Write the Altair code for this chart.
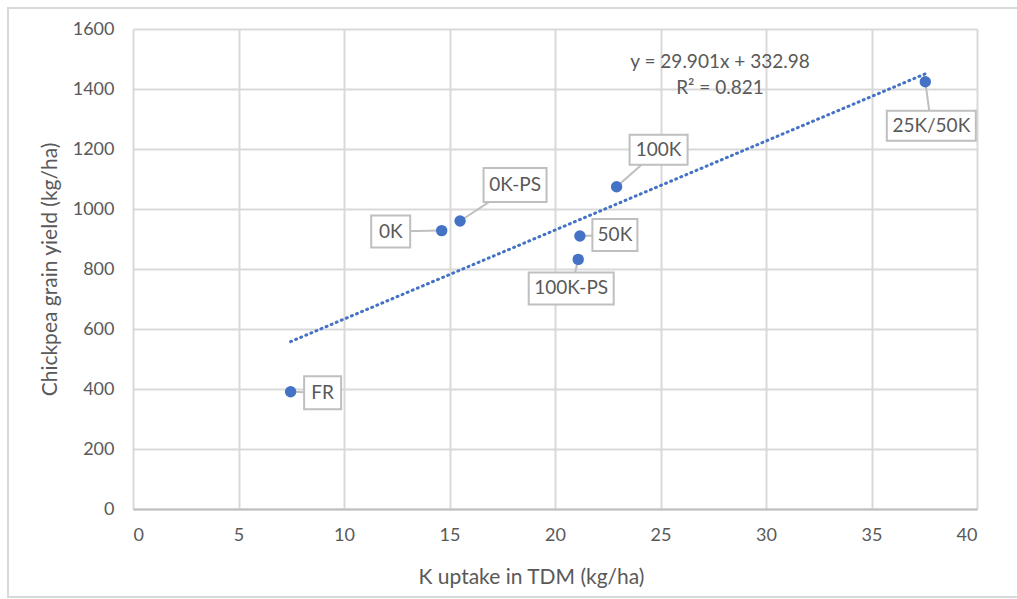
import altair as alt
import pandas as pd

# ---- data ----
labels = ["FR", "0K", "0K-PS", "100K-PS", "50K", "100K", "25K/50K"]
k_uptake = [7.47, 14.63, 15.50, 21.10, 21.18, 22.92, 37.55]
grain_yield = [391, 928, 960, 832, 910, 1074, 1424]

equation_text = "y = 29.901x + 332.98"
r2_text = "R² = 0.821"

# ---- styling / layout (pixels) ----
W, H = 844, 480
X_MAX, Y_MAX = 40, 1600
PX_X = W / X_MAX
PX_Y = H / Y_MAX
# label box centre offset from its point, and box size (pixels)
label_dx = [32, -51, 55, -7, 35, 42, 6]
label_dy = [1, 1, -36, 29, -1, -37, 44]
box_w = [37, 39, 63, 85, 45, 58, 89]
box_h = [33, 32, 34, 32, 32, 30, 30]

FONT = "Lato"
GRAY_TXT = "#595959"
GRID = "#d9d9d9"
BLUE = "#4472C4"

rows = []
for i, lab in enumerate(labels):
    cx = k_uptake[i] + label_dx[i] / PX_X
    cy = grain_yield[i] - label_dy[i] / PX_Y
    rows.append(dict(
        label=lab, x=k_uptake[i], y=grain_yield[i], cx=cx, cy=cy,
        bx1=cx - box_w[i] / 2 / PX_X, bx2=cx + box_w[i] / 2 / PX_X,
        by1=cy - box_h[i] / 2 / PX_Y, by2=cy + box_h[i] / 2 / PX_Y,
    ))
df = pd.DataFrame(rows)

xs = alt.Scale(domain=[0, X_MAX], nice=False, zero=True)
ys = alt.Scale(domain=[0, Y_MAX], nice=False, zero=True)

base = alt.Chart(df)

# outer chart border
border = base.mark_rect(fillOpacity=0, stroke="#d9d9d9", strokeWidth=2).encode(
    x=alt.value(-125), x2=alt.value(W + 60), y=alt.value(-21), y2=alt.value(H + 88)
).transform_filter(alt.datum.label == "FR")

axes = base.mark_point(opacity=0).encode(
    x=alt.X("x:Q", scale=xs, title="K uptake in TDM (kg/ha)",
            axis=alt.Axis(values=list(range(0, 41, 5)), grid=True, gridColor=GRID,
                          gridWidth=2, domainColor="#bfbfbf", domainWidth=2, ticks=False,
                          format="d",
                          labelFont=FONT, labelFontSize=18, labelColor=GRAY_TXT,
                          labelPadding=17, titleFont=FONT, titleFontSize=21,
                          titleFontWeight="normal", titleColor=GRAY_TXT, titlePadding=22,
                          titleX=398)),
    y=alt.Y("y:Q", scale=ys, title="Chickpea grain yield (kg/ha)",
            axis=alt.Axis(values=list(range(0, 1601, 200)), grid=True, gridColor=GRID,
                          gridWidth=2, domain=False, ticks=False, format="d",
                          labelFont=FONT, labelFontSize=18, labelColor=GRAY_TXT,
                          labelPadding=19, titleFont=FONT, titleFontSize=21,
                          titleFontWeight="normal", titleColor=GRAY_TXT, titlePadding=12)),
)

trend = base.transform_regression("x", "y", extent=[min(k_uptake), max(k_uptake)]).mark_line(
    color=BLUE, strokeWidth=3, strokeDash=[1, 4.5], strokeCap="round"
).encode(x=alt.X("x:Q", scale=xs), y=alt.Y("y:Q", scale=ys))

leaders = base.mark_rule(color="#bfbfbf", strokeWidth=2).encode(
    x=alt.X("x:Q", scale=xs), y=alt.Y("y:Q", scale=ys), x2="cx:Q", y2="cy:Q"
)

boxes = base.mark_rect(fill="white", stroke="#bfbfbf", strokeWidth=2).encode(
    x=alt.X("bx1:Q", scale=xs), x2="bx2:Q", y=alt.Y("by1:Q", scale=ys), y2="by2:Q"
)

box_text = base.mark_text(font=FONT, fontSize=19, color=GRAY_TXT, align="center",
                          baseline="middle").encode(
    x=alt.X("cx:Q", scale=xs), y=alt.Y("cy:Q", scale=ys), text="label:N"
)

points = base.mark_circle(size=130, color=BLUE, opacity=1).encode(
    x=alt.X("x:Q", scale=xs), y=alt.Y("y:Q", scale=ys)
)

eq = base.mark_text(font=FONT, fontSize=19, color=GRAY_TXT, align="center",
                    baseline="middle").encode(
    x=alt.value(587), y=alt.value(33), text=alt.value(equation_text)
).transform_filter(alt.datum.label == "FR")

r2 = base.mark_text(font=FONT, fontSize=19, color=GRAY_TXT, align="center",
                    baseline="middle").encode(
    x=alt.value(587), y=alt.value(59), text=alt.value(r2_text)
).transform_filter(alt.datum.label == "FR")

chart = alt.layer(border, axes, trend, leaders, boxes, box_text, points, eq, r2).properties(
    width=W, height=H,
    padding={"left": 133, "top": 29, "right": 40, "bottom": 90},
    autosize=alt.AutoSizeParams(type="none"),
    background="white",
).configure_view(stroke=None)

chart.save("out.html", embed_options={"renderer": "svg", "actions": False})
